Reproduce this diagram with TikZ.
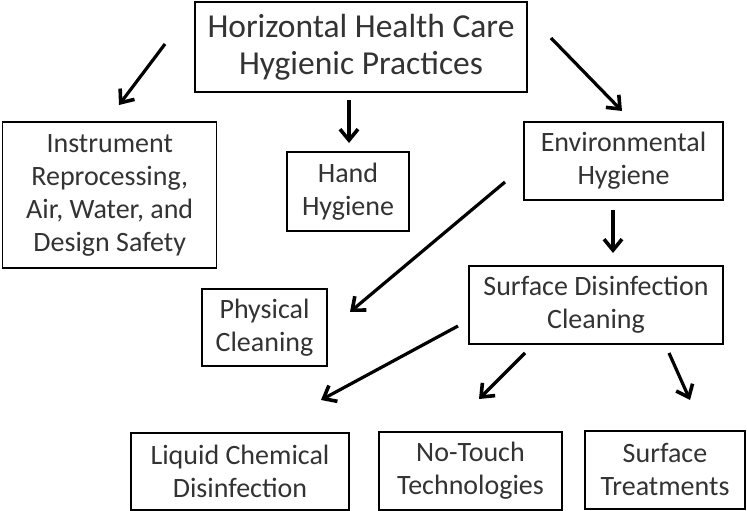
\documentclass[tikz,border=0pt]{standalone}
\usepackage{fontspec}
\setmainfont{Carlito}
\usetikzlibrary{arrows.meta}
\tikzset{
  box/.style={draw=black, line width=1.3pt, inner sep=0pt, align=center,
    text=black!80, font=\fontsize{28}{33}\selectfont, anchor=center},
  bigbox/.style={box, font=\fontsize{33.5}{37}\selectfont},
  arr/.style={line width=3.2pt, -{Straight Barb[length=11pt,width=18pt,line width=3.6pt]}}
}
\begin{document}
\begin{tikzpicture}[x=1pt,y=-1pt]
\useasboundingbox[fill=white] (0,0) rectangle (747,511);
\node[bigbox, minimum width=332pt, minimum height=90pt] (top) at (361,47) {Horizontal Health Care\\Hygienic Practices};
\node[box, minimum width=214pt, minimum height=146pt] (instr) at (109.7,195) {Instrument\\Reprocessing,\\Air, Water, and\\Design Safety};
\node[box, minimum width=122pt, minimum height=79pt] (hand) at (348,191.5) {Hand\\Hygiene};
\node[box, minimum width=199pt, minimum height=78pt] (env) at (623.5,161) {Environmental\\Hygiene};
\node[box, minimum width=254pt, minimum height=78pt] (surf) at (596,305) {Surface Disinfection\\Cleaning};
\node[box, minimum width=125pt, minimum height=77pt] (phys) at (264.5,327.5) {Physical\\Cleaning};
\node[box, minimum width=218pt, minimum height=77pt] (liq) at (240,471.5) {Liquid Chemical\\Disinfection};
\node[box, minimum width=183pt, minimum height=78pt] (touch) at (470.5,471) {No-Touch\\Technologies};
\node[box, minimum width=160pt, minimum height=78pt] (treat) at (665,470) {Surface\\Treatments};

\coordinate (a1s) at (165,44);   \coordinate (a1e) at (119,105);
\coordinate (a2s) at (349,100);  \coordinate (a2e) at (349,143);
\coordinate (a3s) at (551,38);   \coordinate (a3e) at (622,111);
\coordinate (a4s) at (505,182);  \coordinate (a4e) at (350,312);
\coordinate (a5s) at (613,210);  \coordinate (a5e) at (613,253);
\coordinate (a6s) at (458,326);  \coordinate (a6e) at (321,400);
\coordinate (a7s) at (525,353);  \coordinate (a7e) at (479,399);
\coordinate (a8s) at (669,353);  \coordinate (a8e) at (690,400);

\draw[arr] (a1s) -- (a1e);
\draw[arr] (a2s) -- (a2e);
\draw[arr] (a3s) -- (a3e);
\draw[arr] (a4s) -- (a4e);
\draw[arr] (a5s) -- (a5e);
\draw[arr] (a6s) -- (a6e);
\draw[arr] (a7s) -- (a7e);
\draw[arr] (a8s) -- (a8e);
\end{tikzpicture}
\end{document}
